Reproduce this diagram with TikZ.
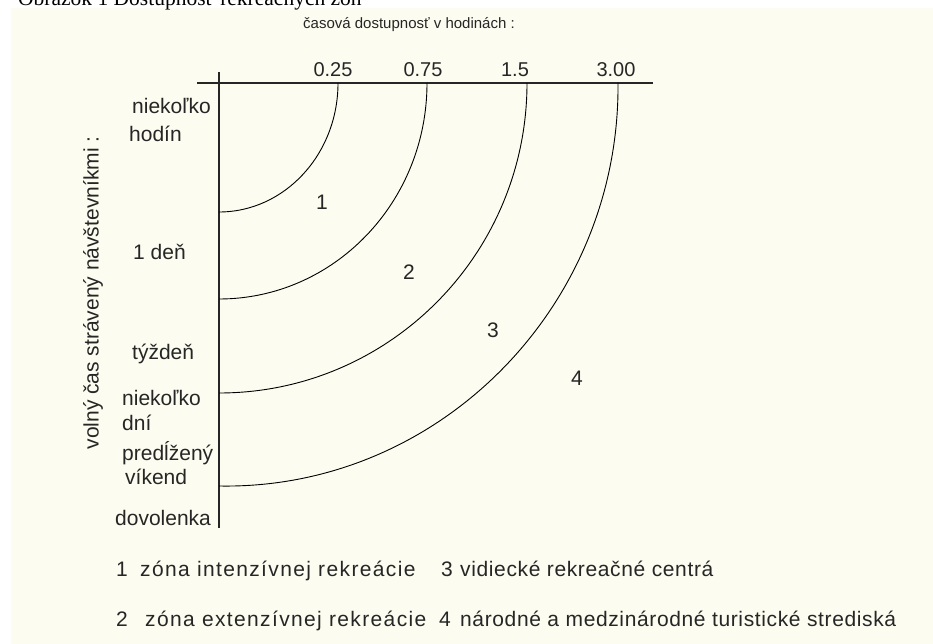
\documentclass[tikz,border=0pt]{standalone}
\usepackage{fontspec}
\setmainfont{Liberation Sans}
\newfontfamily\capfont{Liberation Serif}
\newfontfamily\legfontA[LetterSpace=6.5]{Liberation Sans}
\newfontfamily\legfontB[LetterSpace=3.0]{Liberation Sans}
\definecolor{paper}{RGB}{253,252,240}
\definecolor{ink}{RGB}{38,38,38}

\begin{document}
\begin{tikzpicture}[
  x=1pt, y=-1pt,
  lbl/.style={inner sep=0pt, text=ink, font=\fontsize{21}{24}\selectfont},
  tick/.style={lbl, anchor=base, font=\fontsize{20}{24}\selectfont},
  side/.style={lbl, anchor=base west},
  legnum/.style={lbl, anchor=base},
  legA/.style={lbl, anchor=base west, font=\legfontA\fontsize{21}{24}\selectfont},
  legB/.style={lbl, anchor=base west, font=\legfontB\fontsize{21}{24}\selectfont},
  zone/.style={draw=black, line width=0.9pt},
  axis/.style={draw=ink, line width=1.3pt},
]
\useasboundingbox (0,0) rectangle (933,644);
\fill [white] (0,0) rectangle (933,644);
\fill [paper] (11,8) rectangle (933,644);

% caption, cut off at the top
\node [anchor=base west, inner sep=0pt, font=\capfont\fontsize{21.5}{24}\selectfont] (caption) at (18,5.5) {Obrázok 1 Dostupnosť rekreačných zón};

\node [lbl, font=\fontsize{15}{18}\selectfont] (title) at (409,25) {časová dostupnosť v hodinách :};
\node [lbl, rotate=90] (ylab) at (93,293) {volný čas strávený návštevníkmi :};

\coordinate (hl) at (197,83);
\coordinate (hr) at (653,83);
\coordinate (vt) at (219,72);
\coordinate (vb) at (219,528);
\draw [axis] (hl) -- (hr);
\draw [axis] (vt) -- (vb);

\node [tick] (t1) at (333,77) {0.25};
\node [tick] (t2) at (423,77) {0.75};
\node [tick] (t3) at (515,77) {1.5};
\node [tick] (t4) at (616,77) {3.00};

\coordinate (a1) at (338,83);
\coordinate (b1) at (219,212);
\coordinate (a2) at (427,83);
\coordinate (b2) at (219,299);
\coordinate (a3) at (527,83);
\coordinate (b3) at (219,393);
\coordinate (a4) at (618,83);
\coordinate (b4) at (219,486);
\draw [zone] (a1) .. controls (338,154.2) and (284.7,212) .. (b1);
\draw [zone] (a2) .. controls (427,202.3) and (333.9,299) .. (b2);
\draw [zone] (a3) .. controls (527,254.2) and (389.1,393) .. (b3);
\draw [zone] (a4) .. controls (620,305.6) and (439.4,490) .. (b4);

\node [lbl] (z1) at (322,202) {1};
\node [lbl] (z2) at (409,272) {2};
\node [lbl] (z3) at (493,330) {3};
\node [lbl] (z4) at (577,378) {4};

\node [side] (s1) at (132,114) {niekoľko};
\node [side] (s2) at (129,142) {hodín};
\node [side] (s3) at (133,259) {1 deň};
\node [side] (s4) at (132,359) {týždeň};
\node [side] (s5) at (122,405) {niekoľko};
\node [side] (s6) at (122,430) {dní};
\node [side] (s7) at (122,460) {predĺžený};
\node [side] (s8) at (125,484) {víkend};
\node [side] (s9) at (115,525) {dovolenka};

% legend
\node [legnum] (n1) at (122,576) {1};
\node [legA] (l1) at (140,576) {zóna intenzívnej rekreácie};
\node [legnum] (n3) at (447,576) {3};
\node [legB] (l3) at (460,576) {vidiecké rekreačné centrá};
\node [legnum] (n2) at (122,626) {2};
\node [legA] (l2) at (145,626) {zóna extenzívnej rekreácie};
\node [legnum] (n4) at (445,626) {4};
\node [legB] (l4) at (460,626) {národné a medzinárodné turistické strediská};

\end{tikzpicture}
\end{document}
